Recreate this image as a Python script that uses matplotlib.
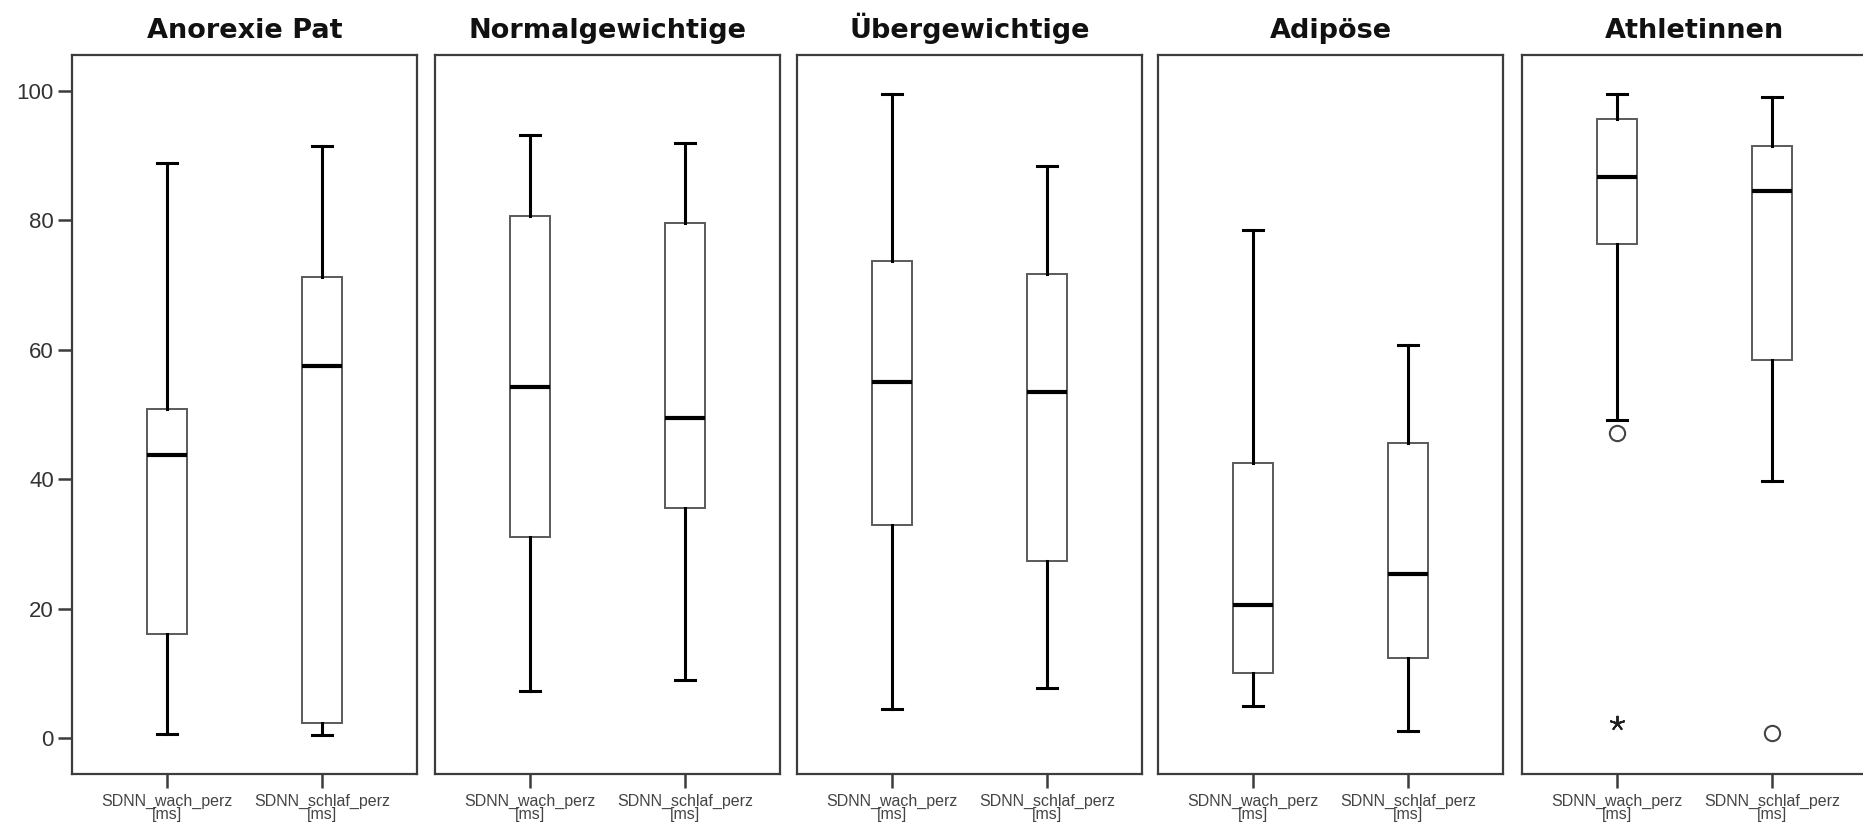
"""SDNN percentiles (wach / schlaf) per group, SPSS-style boxplot panels."""
import matplotlib
matplotlib.use("Agg")
import matplotlib.pyplot as plt

plt.rcParams["font.family"] = ["Liberation Sans", "DejaVu Sans"]

groups = ["Anorexie Pat", "Normalgewichtige", "Übergewichtige", "Adipöse", "Athletinnen"]
variables = ["SDNN_wach_perz\n[ms]", "SDNN_schlaf_perz\n[ms]"]

# five-number summaries
wach_low = [0.6, 7.2, 4.5, 5.0, 49.2]
wach_q1 = [16.0, 31.1, 32.9, 10.1, 76.3]
wach_med = [43.8, 54.2, 55.0, 20.6, 86.7]
wach_q3 = [50.9, 80.7, 73.7, 42.5, 95.6]
wach_high = [88.9, 93.2, 99.6, 78.5, 99.5]
wach_out = [[], [], [], [], [47.1]]
wach_extreme = [[], [], [], [], [2.3]]

schlaf_low = [0.4, 9.0, 7.7, 1.1, 39.7]
schlaf_q1 = [2.3, 35.5, 27.4, 12.3, 58.5]
schlaf_med = [57.5, 49.4, 53.5, 25.4, 84.6]
schlaf_q3 = [71.3, 79.6, 71.7, 45.6, 91.5]
schlaf_high = [91.5, 91.9, 88.4, 60.8, 99.1]
schlaf_out = [[], [], [], [], [0.7]]
schlaf_extreme = [[], [], [], [], []]

yticks = [0, 20, 40, 60, 80, 100]

W, H = 1863, 830
fig = plt.figure(figsize=(W / 100, H / 100), dpi=100)
lefts = [72, 435, 797, 1158, 1522]
frame_col = "#3c3c3c"

for i, name in enumerate(groups):
    ax = fig.add_axes([lefts[i] / W, 56 / H, 345 / W, 719 / H])
    stats = [
        dict(whislo=wach_low[i], q1=wach_q1[i], med=wach_med[i], q3=wach_q3[i],
             whishi=wach_high[i], fliers=wach_out[i]),
        dict(whislo=schlaf_low[i], q1=schlaf_q1[i], med=schlaf_med[i], q3=schlaf_q3[i],
             whishi=schlaf_high[i], fliers=schlaf_out[i]),
    ]
    ax.bxp(stats, positions=[1, 2], widths=0.258, capwidths=0.129, patch_artist=True,
           boxprops=dict(facecolor="white", edgecolor="#5a5a5a", linewidth=1.4),
           whiskerprops=dict(color="black", linewidth=2.2),
           capprops=dict(color="black", linewidth=2.2),
           medianprops=dict(color="black", linewidth=3.0, solid_capstyle="butt"),
           flierprops=dict(marker="o", markersize=11, markerfacecolor="none",
                           markeredgecolor="#444444", markeredgewidth=1.5))
    for pos, ext in zip([1, 2], [wach_extreme[i], schlaf_extreme[i]]):
        if ext:
            ax.plot([pos] * len(ext), ext, linestyle="none", marker=(5, 2, 0),
                    markersize=11, color="#222222", markeredgewidth=1.4)

    ax.set_xlim(0.387, 2.609)
    ax.set_ylim(-5.56, 105.56)
    ax.set_xticks([1, 2])
    ax.set_xticklabels(variables, fontsize=11.5, color="#444444", linespacing=0.9)
    ax.tick_params(axis="x", length=10, width=1.8, color=frame_col, pad=4)
    if i == 0:
        ax.set_yticks(yticks)
        ax.tick_params(axis="y", length=10, width=1.8, color=frame_col, pad=3,
                       labelsize=16, labelcolor="#333333")
    else:
        ax.set_yticks([])
    for sp in ax.spines.values():
        sp.set_color(frame_col)
        sp.set_linewidth(1.6)
    ax.set_title(name, fontsize=19.5, fontweight="bold", pad=12,
                 family=["DejaVu Sans"], color="#111111")

fig.savefig("out.png", dpi=100)
